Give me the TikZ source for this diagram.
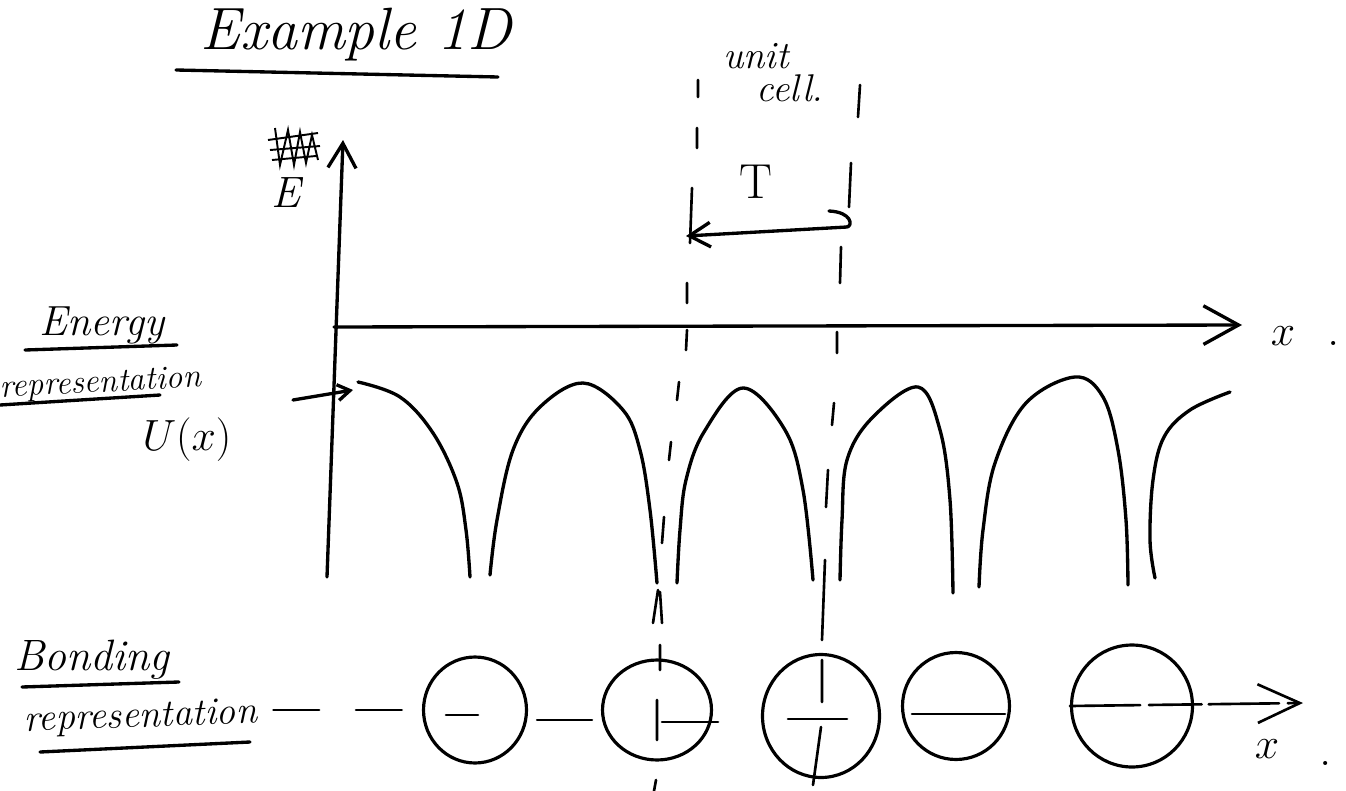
\documentclass[tikz,border=0pt]{standalone}
\usetikzlibrary{arrows.meta,shapes.geometric}
\newcommand\myhs[1]{\fontsize{#1}{#1}\selectfont\itshape}
\begin{document}
\begin{tikzpicture}[x=0.02cm,y=-0.02cm,
  ink/.style={line width=1.9pt,line cap=round,line join=round},
  thinink/.style={line width=1.5pt,line cap=round},
  hand/.style={inner sep=0pt,anchor=base},
  atom/.style={ellipse,draw,line width=1.8pt,inner sep=0pt},
  leaddash/.style={thinink,dash pattern=on 26pt off 21pt},
  axisdash/.style={thinink,dash pattern=on 40pt off 5pt on 30pt off 4pt}]
\useasboundingbox (0,0) rectangle (1346,791);

% title
\node[hand,font=\myhs{34}] (title) at (356,50) {Example 1D};
\draw[ink] (176,70) -- (498,77);

% side labels
\node[hand,font=\myhs{24}] (energy) at (102,335) {Energy};
\draw[ink] (25,350) -- (177,345);
\node[hand,font=\myhs{19},rotate=3] (erep) at (101,392) {representation};
\draw[ink] (0,405) -- (160,395);
\node[hand,font=\fontsize{28}{28}\selectfont] (ulab) at (187,450) {$U(x)$};

\node[hand,font=\myhs{25}] (bonding) at (92,670) {Bonding};
\draw[ink] (22,687) -- (179,682);
\node[hand,font=\myhs{22},rotate=2] (brep) at (141,727) {representation};
\draw[ink] (40,752) -- (250,742);

% axis labels
\draw[line width=1.1pt] (268,140) -- (318,133) (270,150) -- (320,146) (272,160) -- (316,156)
  (275,128) -- (280,165) -- (288,130) -- (294,165) -- (300,132) -- (306,163) -- (312,135) -- (318,160);
\node[hand,font=\myhs{25}] (elab) at (286,207) {E};
\node[hand,font=\myhs{22}] (unit) at (756,68) {unit};
\node[hand,font=\myhs{22}] (cell) at (790,101) {cell.};
\node[hand,font=\fontsize{28}{28}\selectfont] (tlab) at (756,198) {T};
\node[hand,font=\fontsize{32}{32}\selectfont] (xtop) at (1283,345) {$x$};
\node[hand,font=\fontsize{28}{28}\selectfont] (dot1) at (1334,345) {.};
\node[hand,font=\fontsize{28}{28}\selectfont] (xbot) at (1267,758) {$x$};
\node[hand,font=\fontsize{28}{28}\selectfont] (dot2) at (1326,765) {.};

% axes
\coordinate (ybot) at (327,577);
\coordinate (ytop) at (343,140);
\coordinate (O) at (334,327);
\coordinate (xend) at (1242,325);
\draw[ink,-{Straight Barb[length=14pt,width=16pt]}] (ybot) -- (ytop);
\draw[ink,-{Straight Barb[length=20pt,width=22pt]}] (O) -- (xend);

% arrow to U(x)
\coordinate (ua) at (293,400);
\coordinate (ub) at (353,390);
\draw[ink,-{Straight Barb[length=7pt,width=9pt]}] (ua) -- (ub);

% potential curves
\draw[ink] plot[smooth,tension=0.6] coordinates {(358,382) (400,397) (433,433) (457,483) (466,530) (470,577)};
\draw[ink] plot[smooth,tension=0.6] coordinates {(490,575) (497,520) (513,450) (540,407) (583,383) (623,410) (640,450) (650,510) (657,583)};
\draw[ink] plot[smooth,tension=0.6] coordinates {(677,583) (680,530) (686,480) (704,432) (743,388) (785,430) (803,490) (813,580)};
\draw[ink] plot[smooth,tension=0.6] coordinates {(840,580) (842,520) (847,460) (872,418) (918,387) (940,430) (950,500) (953,593)};
\draw[ink] plot[smooth,tension=0.6] coordinates {(979,587) (983,530) (995,463) (1026,403) (1075,377) (1103,397) (1118,450) (1126,520) (1128,585)};
\draw[ink] plot[smooth,tension=0.6] coordinates {(1155,578) (1150,540) (1153,480) (1164,437) (1190,410) (1230,392)};

% unit cell lines (hand dashed)
\draw[thinink] (698,80) -- (698,97) (697,128) -- (697,148) (692,188) -- (690,243)
  (687,283) -- (687,303) (687,330) -- (686,350) (679,382) -- (677,400)
  (671,442) -- (669,460) (664,517) -- (662,543) (653,623) -- (658,590) (660,592) -- (662,623)
  (660,645) -- (660,670) (657,700) -- (657,740) (656,780) -- (654,791);
\draw[thinink] (860,85) -- (858,117) (851,163) -- (849,207) (841,247) -- (840,283)
  (837,332) -- (837,353) (834,403) -- (832,425) (828,470) -- (826,507)
  (825,560) -- (822,640) (822,660) -- (822,702) (821,727) -- (813,785);

% period arrow T
\coordinate (Ta) at (686,236);
\coordinate (Tb) at (847,227);
\draw[ink,{Straight Barb[length=12pt,width=14pt]}-] (Ta) -- (Tb);
\draw[ink] (829,211) .. controls (852,212) and (853,226) .. (Tb);

% bonding representation
\node[atom,minimum width=2.06cm,minimum height=2.12cm] (c1) at (475,710) {};
\node[atom,minimum width=2.18cm,minimum height=2.0cm] (c2) at (657,710) {};
\node[atom,minimum width=2.34cm,minimum height=2.46cm] (c3) at (821,716) {};
\node[atom,minimum width=2.14cm,minimum height=2.14cm] (c4) at (956,706) {};
\node[atom,minimum width=2.42cm,minimum height=2.44cm] (c5) at (1132,706) {};

\draw[leaddash,shorten <=0.32cm,shorten >=0.4cm] (brep.east |- c1.west) -- (c1.west);
\path (c1.east) ++(0,10) coordinate (c1r) (c2.west) ++(0,10) coordinate (c2l);
\draw[thinink,shorten <=0.18cm,shorten >=0.18cm] (c1r) -- (c2l);
\coordinate (bend) at (1303,703);
\draw[axisdash,-{Straight Barb[length=24pt,width=22pt]}] (c5.west) -- (bend);

\draw[thinink] (446,715) -- (478,715);
\draw[thinink] (662,722) -- (718,722);
\draw[thinink] (788,719) -- (847,719);
\draw[thinink] (912,714) -- (1005,714);
\end{tikzpicture}
\end{document}
